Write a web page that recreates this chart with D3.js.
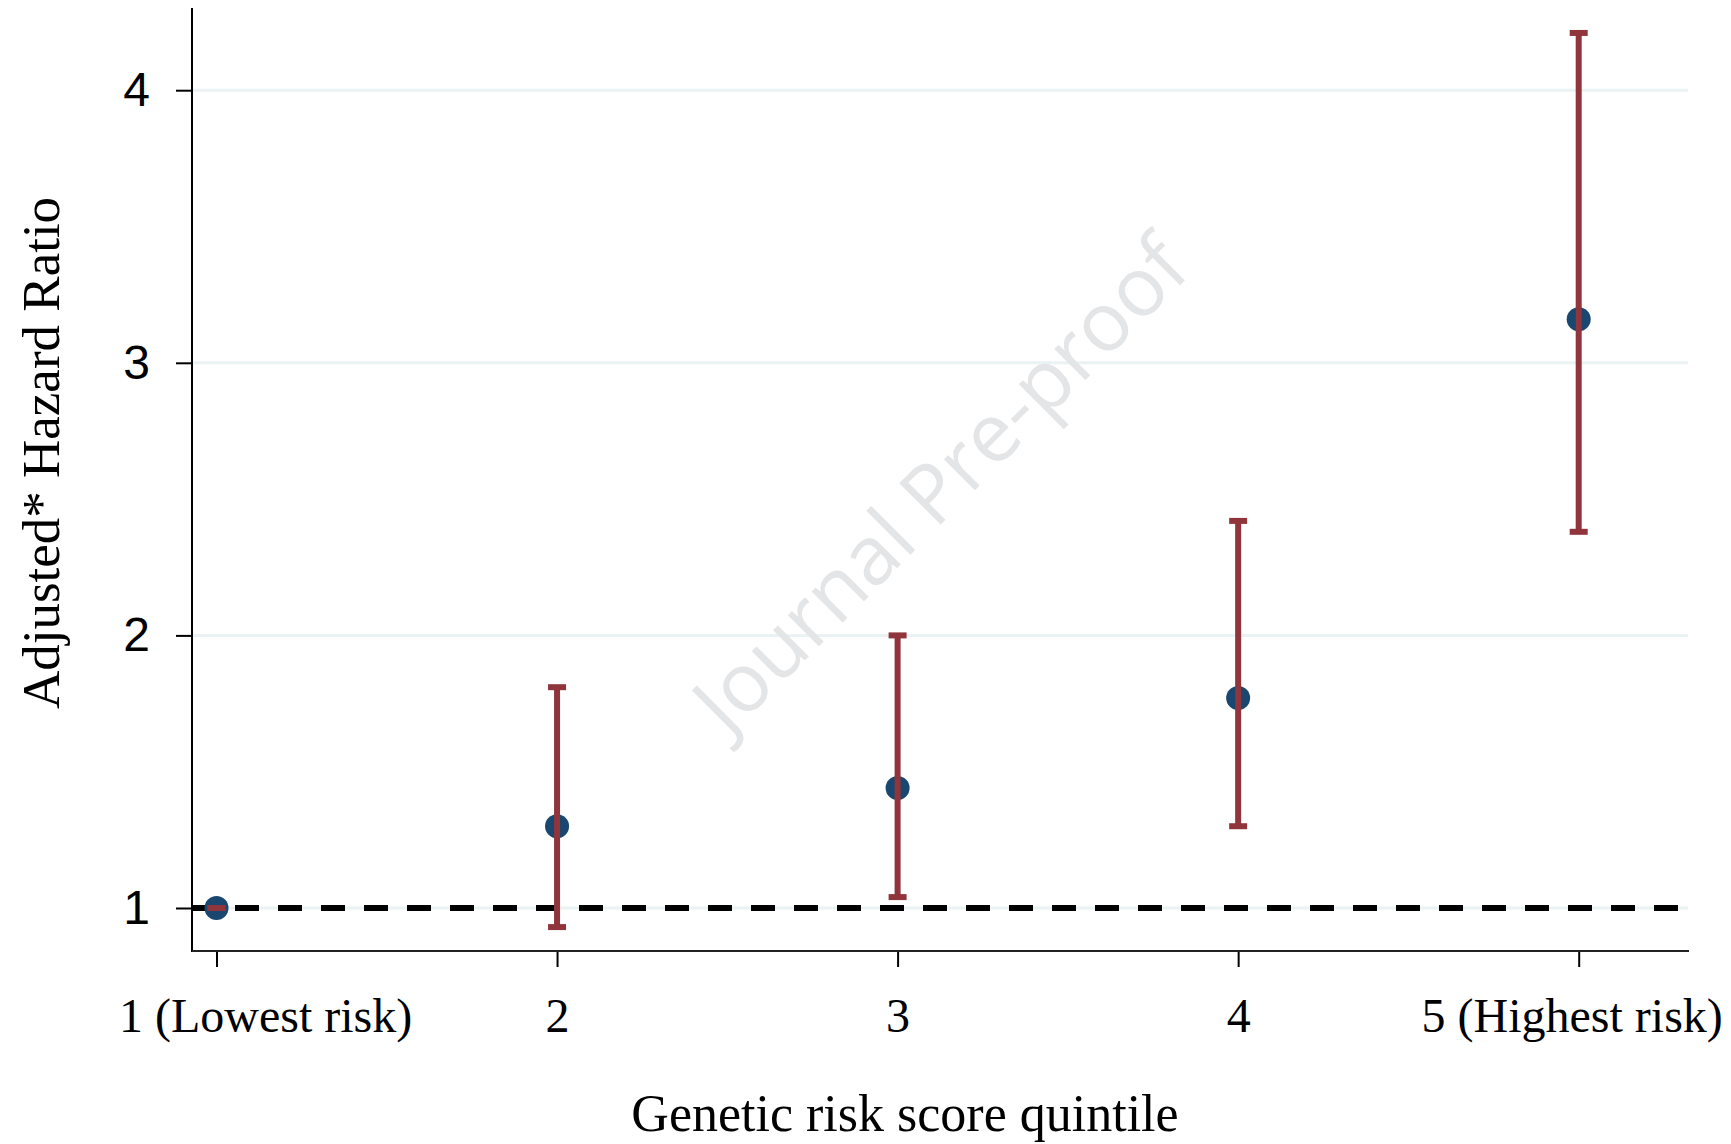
<!DOCTYPE html>
<html>
<head>
<meta charset="utf-8">
<script src="https://cdn.jsdelivr.net/npm/d3@7"></script>
<style>
  html, body { margin: 0; padding: 0; background: #fff; }
  svg { display: block; }
</style>
</head>
<body>
<svg id="chart" width="1731" height="1144"></svg>
<script>
// ---- data ----
const quintiles = [1, 2, 3, 4, 5];
const quintileLabels = ["1 (Lowest risk)", "2", "3", "4", "5 (Highest risk)"];
const hazardRatio = [1.00, 1.30, 1.44, 1.77, 3.16];
const ciLower = [1.00, 0.93, 1.04, 1.30, 2.38];
const ciUpper = [1.00, 1.81, 2.00, 2.42, 4.21];
const yTicks = [1, 2, 3, 4];
const referenceHR = 1;

const xTitle = "Genetic risk score quintile";
const yTitle = "Adjusted* Hazard Ratio";
const watermark = "Journal Pre-proof";

// ---- layout ----
const plot = { left: 192, right: 1689, top: 8, bottom: 951 };
const serif = "'Liberation Serif', 'Times New Roman', Times, serif";
const sans = "'Liberation Sans', Arial, Helvetica, sans-serif";
const navy = "#1a476f", maroon = "#90353b", grid = "#eaf2f3";

const svg = d3.select("#chart");

const x = d3.scaleLinear().domain([1, 5]).range([216.5, 1578.7]);
const y = d3.scaleLinear().domain([1, 4]).range([908, 90.2]);

// gridlines
svg.append("g").selectAll("line").data(yTicks).join("line")
  .attr("x1", plot.left).attr("x2", plot.right - 1)
  .attr("y1", d => y(d)).attr("y2", d => y(d))
  .attr("stroke", grid).attr("stroke-width", 3);

// watermark
svg.append("text")
  .attr("transform", "translate(938,482) rotate(-45)")
  .attr("text-anchor", "middle")
  .attr("dominant-baseline", "central")
  .attr("font-family", "'Open Sans', sans-serif")
  .attr("font-size", 82)
  .attr("fill", "#e4e5e7")
  .text(watermark);

// reference dashed line
svg.append("line")
  .attr("x1", plot.left).attr("x2", plot.right - 1)
  .attr("y1", y(referenceHR)).attr("y2", y(referenceHR))
  .attr("stroke", "#000").attr("stroke-width", 6)
  .attr("stroke-dasharray", "24,19");

// axes
const yAxis = d3.axisLeft(y).tickValues(yTicks).tickSize(16).tickPadding(26).tickFormat(d3.format("d"));
const gy = svg.append("g").attr("transform", `translate(${plot.left},0)`).call(yAxis);
gy.select(".domain").remove();
gy.selectAll(".tick line").attr("stroke", "#000").attr("stroke-width", 2);
gy.selectAll(".tick text").attr("font-family", sans).attr("font-size", 48).attr("fill", "#000");

const xAxis = d3.axisBottom(x).tickValues(quintiles).tickSize(16).tickPadding(31)
  .tickFormat((d, i) => quintileLabels[i]);
const gx = svg.append("g").attr("transform", `translate(0,${plot.bottom})`).call(xAxis);
gx.select(".domain").remove();
gx.selectAll(".tick line").attr("stroke", "#000").attr("stroke-width", 2);
gx.selectAll(".tick text").attr("font-family", serif).attr("font-size", 48).attr("fill", "#000");
gx.selectAll(".tick text").filter((d, i) => i === 0).attr("text-anchor", "start").attr("dx", -98);
gx.selectAll(".tick text").filter((d, i) => i === quintiles.length - 1).attr("dx", -7);

// axis lines
svg.append("line").attr("x1", plot.left).attr("x2", plot.left)
  .attr("y1", plot.top).attr("y2", plot.bottom + 1)
  .attr("stroke", "#000").attr("stroke-width", 2);
svg.append("line").attr("x1", plot.left).attr("x2", plot.right)
  .attr("y1", plot.bottom).attr("y2", plot.bottom)
  .attr("stroke", "#222").attr("stroke-width", 2);

// points
const pts = quintiles.map((q, i) => ({ q, hr: hazardRatio[i], lo: ciLower[i], hi: ciUpper[i] }));
svg.append("g").selectAll("circle").data(pts).join("circle")
  .attr("cx", d => x(d.q)).attr("cy", d => y(d.hr)).attr("r", 12)
  .attr("fill", navy);

// CI bars
const ci = svg.append("g").attr("stroke", maroon);
ci.selectAll("line.bar").data(pts).join("line").attr("class", "bar")
  .attr("x1", d => x(d.q)).attr("x2", d => x(d.q))
  .attr("y1", d => y(d.lo)).attr("y2", d => y(d.hi))
  .attr("stroke-width", 6);
ci.selectAll("line.capHi").data(pts).join("line").attr("class", "capHi")
  .attr("x1", d => x(d.q) - 9).attr("x2", d => x(d.q) + 9)
  .attr("y1", d => y(d.hi)).attr("y2", d => y(d.hi))
  .attr("stroke-width", 6);
ci.selectAll("line.capLo").data(pts).join("line").attr("class", "capLo")
  .attr("x1", d => x(d.q) - 9).attr("x2", d => x(d.q) + 9)
  .attr("y1", d => y(d.lo)).attr("y2", d => y(d.lo))
  .attr("stroke-width", 6);

// titles
svg.append("text")
  .attr("x", 905).attr("y", 1131)
  .attr("text-anchor", "middle")
  .attr("font-family", serif).attr("font-size", 52).attr("fill", "#000")
  .text(xTitle);
svg.append("text")
  .attr("transform", "translate(59,453) rotate(-90)")
  .attr("text-anchor", "middle")
  .attr("font-family", serif).attr("font-size", 53).attr("fill", "#000")
  .text(yTitle);
</script>
</body>
</html>
